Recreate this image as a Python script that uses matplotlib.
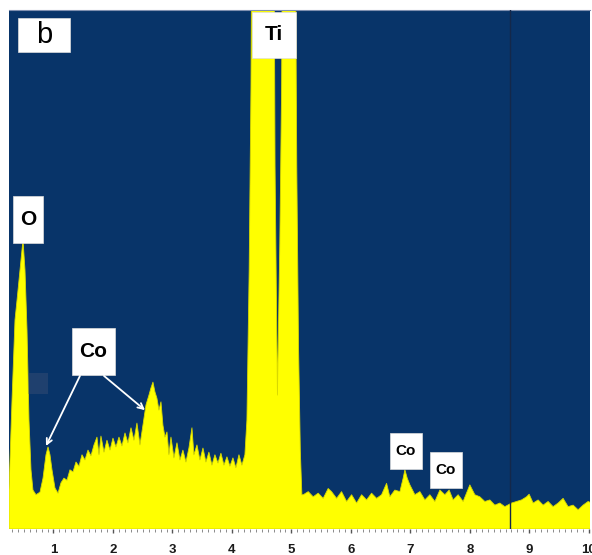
import matplotlib
matplotlib.use("Agg")
import matplotlib.pyplot as plt
from matplotlib.patches import Rectangle
from matplotlib.ticker import MultipleLocator

plt.rcParams['font.family'] = ['Liberation Sans', 'DejaVu Sans']

# EDS spectrum (energy in keV, counts in % of the plot height)
energy = [0.252, 0.303, 0.353, 0.387, 0.437, 0.487, 0.521, 0.555, 0.588, 0.622,
          0.655, 0.706, 0.773, 0.824, 0.874, 0.908, 0.941, 0.975, 1.025, 1.076,
          1.126, 1.176, 1.227, 1.277, 1.328, 1.378, 1.429, 1.479, 1.529, 1.580,
          1.630, 1.681, 1.731, 1.765, 1.798, 1.849, 1.899, 1.950, 2.000, 2.050,
          2.101, 2.151, 2.202, 2.252, 2.303, 2.353, 2.403, 2.454, 2.504, 2.555,
          2.605, 2.639, 2.672, 2.706, 2.739, 2.773, 2.807, 2.840, 2.874, 2.908,
          2.941, 2.975, 3.025, 3.076, 3.126, 3.176, 3.227, 3.277, 3.328, 3.361,
          3.412, 3.462, 3.513, 3.563, 3.613, 3.664, 3.714, 3.765, 3.815, 3.866,
          3.916, 3.966, 4.017, 4.067, 4.118, 4.168, 4.218, 4.252, 4.290, 4.320,
          4.345, 4.700, 4.725, 4.765, 4.805, 4.835, 4.860, 5.055, 5.090, 5.120,
          5.150, 5.176,
          5.199, 5.283, 5.366, 5.450, 5.534, 5.618, 5.675, 5.760, 5.843, 5.928,
          6.012, 6.096, 6.180, 6.264, 6.348, 6.432, 6.516, 6.600, 6.655, 6.739,
          6.824, 6.879, 6.908, 6.947, 6.992, 7.076, 7.160, 7.244, 7.328, 7.412,
          7.496, 7.580, 7.652, 7.719, 7.803, 7.887, 8.000, 8.084, 8.168, 8.252,
          8.336, 8.420, 8.504, 8.588, 8.701, 8.785, 8.869, 8.953, 8.997, 9.064,
          9.148, 9.232, 9.316, 9.400, 9.484, 9.568, 9.652, 9.736, 9.820, 9.904,
          9.988, 10.05]
counts = [7.5, 24.9, 40.3, 44.1, 49.9, 55.7, 49.9, 38.3, 21.0, 11.4,
          7.5, 6.6, 7.1, 9.8, 14.3, 15.8, 14.3, 11.4, 7.9, 6.9,
          8.9, 9.8, 9.4, 11.4, 11.0, 12.9, 12.1, 14.3, 13.3, 15.2,
          14.1, 16.2, 17.7, 14.3, 17.9, 14.8, 17.1, 15.2, 17.5, 15.8,
          17.7, 16.0, 18.5, 16.6, 19.5, 17.1, 20.4, 16.2, 20.0, 23.9,
          25.8, 27.2, 28.3, 26.4, 25.2, 22.9, 24.5, 20.0, 17.7, 18.7,
          14.3, 17.7, 13.7, 16.6, 13.3, 15.2, 12.9, 15.6, 19.5, 14.3,
          16.2, 13.3, 15.6, 12.9, 14.8, 12.3, 14.3, 12.7, 14.6, 12.3,
          13.9, 12.1, 13.7, 11.8, 14.3, 12.3, 14.3, 21.0, 50.0, 85.0,
          140, 140, 70.0, 25.8, 55.0, 85.0, 140, 140, 70.0, 35.0,
          15.0, 6.6,
          6.6, 7.2, 6.2, 6.9, 5.9, 7.8, 7.2, 5.9, 7.2, 5.3,
          6.6, 5.0, 6.6, 5.6, 6.9, 5.9, 6.6, 8.8, 6.2, 7.5,
          7.2, 9.8, 11.4, 9.8, 8.5, 6.6, 7.2, 5.6, 6.6, 5.3,
          7.5, 6.6, 7.5, 5.6, 6.6, 5.3, 8.5, 6.6, 6.2, 5.3,
          5.6, 4.6, 5.0, 4.3, 5.0, 5.3, 5.6, 6.2, 6.7, 5.0,
          5.6, 4.6, 5.3, 4.3, 5.0, 5.9, 4.3, 4.6, 3.7, 4.6,
          5.3, 5.0]

tick_pos = [1, 2, 3, 4, 5, 6, 7, 8, 9, 10]
marker_line = 8.667

# element labels: text, box (x0, x1, y0, y1), font size, weight
labels = [
    ("b", (0.403, 1.277, 91.9, 98.5), 21, "normal"),
    ("Ti", (4.336, 5.076, 90.8, 99.6), 15, "bold"),
    ("O", (0.319, 0.824, 55.1, 64.2), 15, "bold"),
    ("Co", (1.311, 2.034, 29.7, 38.7), 15, "bold"),
    ("Co", (6.655, 7.193, 11.6, 18.5), 11, "bold"),
    ("Co", (7.328, 7.866, 7.9, 14.8), 11, "bold"),
]
# arrows from the big Co label to the Co L peaks
arrows = [((1.445, 29.5), (0.874, 16.0)), ((1.849, 29.5), (2.538, 22.9))]

navy = '#083469'
yellow = '#ffff00'

fig = plt.figure(figsize=(5.92, 5.55), dpi=100)
ax = fig.add_axes([9 / 592, 26 / 555, 581 / 592, 519 / 555])
ax.set_facecolor(navy)
ax.fill_between(energy, 0, counts, color=yellow, lw=0.6, edgecolor='#d8d800', zorder=2)
ax.axvline(marker_line, color='#14284a', lw=1.0, zorder=3)

# faint grey smudge left of the big Co label
ax.add_patch(Rectangle((0.57, 26.0), 0.34, 4.0, color='#4a5878', alpha=0.35, lw=0, zorder=3))

for txt, (x0, x1, y0, y1), fs, fw in labels:
    ax.add_patch(Rectangle((x0, y0), x1 - x0, y1 - y0, facecolor='white',
                           edgecolor='#dddddd', lw=0.5, zorder=4))
    ax.text((x0 + x1) / 2, (y0 + y1) / 2, txt, ha='center', va='center',
            fontsize=fs, fontweight=fw, color='black', zorder=5)

for (tail, head) in arrows:
    ax.annotate('', xy=head, xytext=tail,
                arrowprops=dict(arrowstyle='->', color='white', lw=1.3,
                                shrinkA=0, shrinkB=0, mutation_scale=10), zorder=5)

ax.set_xlim(0.252, 10.02)
ax.set_ylim(0, 100)
ax.set_xticks(tick_pos)
ax.set_xticklabels([str(t) for t in tick_pos], fontsize=9.5, fontweight='bold', color='#1a1a1a')
ax.xaxis.set_minor_locator(MultipleLocator(0.1))
ax.tick_params(axis='x', which='major', length=3, width=1, color='#555555', pad=8)
ax.tick_params(axis='x', which='minor', length=2, width=0.6, color='#777777')
ax.set_yticks([])
for s in ['left', 'right', 'bottom']:
    ax.spines[s].set_visible(False)
ax.spines['top'].set_color('#8090b0')
ax.spines['top'].set_linewidth(0.8)

fig.savefig('out.png', dpi=100)
